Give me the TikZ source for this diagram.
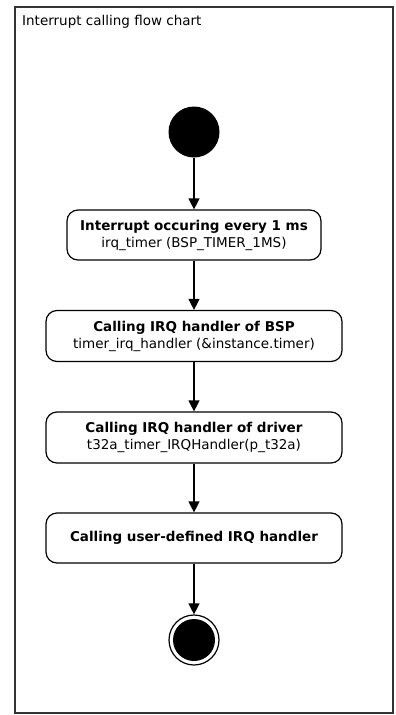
\documentclass[tikz,border=0pt]{standalone}
\usepackage{fontspec}
\setmainfont{DejaVu Sans}
\usetikzlibrary{shapes.geometric, arrows.meta}
\tikzstyle{arrow} = [line width=1.3pt,-{Triangle[width=11pt,length=11pt]}]

\begin{document}
\begin{tikzpicture}
        [
            x=1pt, y=-1pt,
            box/.style={rectangle,rounded corners=11pt,draw=black,line width=1.2pt,
                align=center,inner sep=0pt,font=\fontsize{13.5}{17}\selectfont},
            start/.style={circle,fill=black,inner sep=0pt,minimum size=51pt},
            stop/.style={circle,draw=black,line width=1.2pt,fill=white,inner sep=0pt,minimum size=50pt},
        ]

    \useasboundingbox (0,0) rectangle (396,715);
    \draw[line width=1.2pt,black!80] (15,7) rectangle (393,713);
    \node [anchor=west,inner sep=0pt,font=\fontsize{13.5}{16}\selectfont] (title) at (22,22) {Interrupt calling flow chart};

    \node [start] (init) at (194,132) {};
    \node [box,minimum width=254pt,minimum height=50pt] (irq) at (194,235)
        {\textbf{Interrupt occuring every 1 ms}\\irq\_timer (BSP\_TIMER\_1MS)};
    \node [box,minimum width=296pt,minimum height=51pt] (bsp) at (194,336)
        {\textbf{Calling IRQ handler of BSP}\\timer\_irq\_handler (\&instance.timer)};
    \node [box,minimum width=296pt,minimum height=51pt] (drv) at (194,437.5)
        {\textbf{Calling IRQ handler of driver}\\t32a\_timer\_IRQHandler(p\_t32a)};
    \node [box,minimum width=296pt,minimum height=50pt] (user) at (194,538)
        {\textbf{Calling user-defined IRQ handler}};
    \node [stop] (final) at (194,640) {};
    \node [circle,fill=black,inner sep=0pt,minimum size=42pt] (finaldot) at (final) {};

    \draw [arrow] (init) -- (irq);
    \draw [arrow] (irq) -- (bsp);
    \draw [arrow] (bsp) -- (drv);
    \draw [arrow] (drv) -- (user);
    \draw [arrow] (user) -- (final);
\end{tikzpicture}
\end{document}
